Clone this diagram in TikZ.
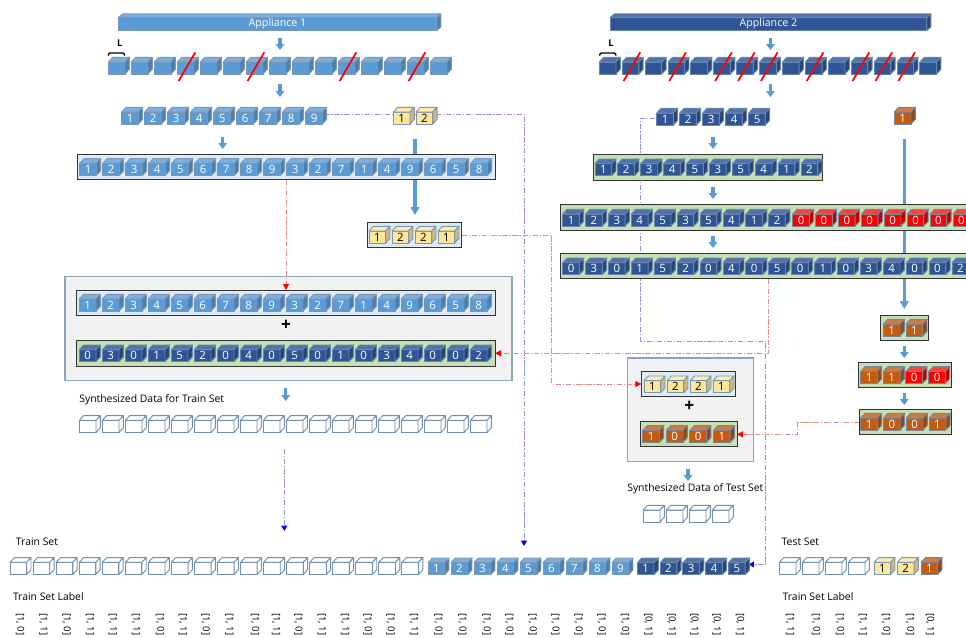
\documentclass[tikz,border=0pt]{standalone}
\usepackage{fontspec}
\setmainfont{Open Sans}
\usetikzlibrary{arrows.meta,backgrounds}
\definecolor{lbF}{HTML}{5B9BD5}\definecolor{lbT}{HTML}{7CAFDE}\definecolor{lbS}{HTML}{4A7FB0}\definecolor{lbE}{HTML}{7A98B5}\colorlet{lbX}{white}
\definecolor{dbF}{HTML}{2F5597}\definecolor{dbT}{HTML}{4F73AC}\definecolor{dbS}{HTML}{264679}\definecolor{dbE}{HTML}{6A85A8}\colorlet{dbX}{white}
\definecolor{yeF}{HTML}{FFE699}\definecolor{yeT}{HTML}{FFEBAE}\definecolor{yeS}{HTML}{CDB97B}\definecolor{yeE}{HTML}{7A98B5}\colorlet{yeX}{black}
\definecolor{orF}{HTML}{C55A11}\definecolor{orT}{HTML}{D07B41}\definecolor{orS}{HTML}{8E4A1E}\definecolor{orE}{HTML}{7A8595}\colorlet{orX}{white}
\definecolor{rdF}{HTML}{FF0000}\definecolor{rdT}{HTML}{FF4040}\definecolor{rdS}{HTML}{C00000}\definecolor{rdE}{HTML}{7A8595}\colorlet{rdX}{white}
\colorlet{emF}{white}\colorlet{emT}{white}\colorlet{emS}{white}\definecolor{emE}{HTML}{7090AE}\colorlet{emX}{black}
\definecolor{paleblue}{HTML}{DEEBF7}\definecolor{palegreen}{HTML}{C5E0B4}\definecolor{panel}{HTML}{F2F2F2}
\definecolor{panelline}{HTML}{8CA3BA}\definecolor{bluedash}{HTML}{9090E8}\definecolor{reddash}{HTML}{E28A8A}\definecolor{blockblue}{HTML}{5B9BD5}
\tikzset{
  cubeface/.style={draw=#1E,fill=#1F,text=#1X,line width=0.7pt,inner sep=0pt,outer sep=0pt,
    minimum width=12.5pt,minimum height=9pt,font=\fontsize{8.6}{9}\selectfont},
  cubepart/.style={draw=#1E,line width=0.7pt,line join=round},
  framebox/.style={draw=black!80,line width=0.7pt,inner sep=0pt,outer sep=0pt,anchor=north west},
  panelbox/.style={draw=panelline,fill=panel,line width=1pt,inner sep=0pt,outer sep=0pt,anchor=north west},
  blockarrow/.style={blockblue,line width=2.3pt,-{Triangle[width=6.5pt,length=4.5pt]}},
  longarrow/.style={blockblue,line width=2.4pt,-{Triangle[width=6.5pt,length=6pt]}},
  blueline/.style={bluedash,line width=0.6pt,dash pattern=on 4pt off 1.3pt on 1pt off 1.3pt,-{Triangle[width=4.5pt,length=4pt,fill=blue,color=blue]}},
  redline/.style={reddash,line width=0.6pt,dash pattern=on 4pt off 1.3pt on 1pt off 1.3pt,-{Triangle[width=4.5pt,length=4.5pt,fill=red,color=red]}},
  strikeline/.style={red,line width=1.3pt},
  barbox/.style={draw=#1E,fill=#1F,line width=0.6pt,inner sep=0pt,outer sep=0pt,text=white,anchor=north west,font=\fontsize{8}{9}\selectfont},
  caption/.style={anchor=west,inner sep=0pt,outer sep=0pt,font=\fontsize{7.8}{9}\selectfont},
  vertlabel/.style={anchor=west,rotate=-90,inner sep=0pt,outer sep=0pt,font=\fontsize{7.2}{8}\selectfont},
  plussign/.style={inner sep=0pt,font=\fontsize{13}{14}\bfseries\selectfont},
  lmark/.style={inner sep=0pt,font=\fontsize{7}{8}\bfseries\selectfont},
  bracket/.style={black,line width=1pt,rounded corners=0.8pt},
}
% name, x of left edge, y of top edge, kind, label
\newcommand\mycube[5]{%
  \node[cubeface=#4] (#1) at (#2+8.35,#3+10.7) {#5};
  \draw[cubepart=#4,fill=#4T] (#1.north west) -- ++(4.3,-4.7) -- ++(16.7,0) -- (#1.north east) -- cycle;
  \draw[cubepart=#4,fill=#4S] (#1.north east) -- ++(4.3,-4.7) -- ++(0,12) -- (#1.south east) -- cycle;
}
% prefix, x0, pitch, y, kind, labels
\newcommand\cuberow[6]{%
  \foreach \lab [count=\ii from 0] in {#6}{%
    \pgfmathsetmacro\xx{#2+#3*\ii}%
    \mycube{#1\ii}{\xx}{#4}{#5}{\lab}%
  }%
}
\newcommand\strikecube[1]{%
  \draw[strikeline] ([shift={(-7,13)}]#1.center) -- ([shift={(9.65,-15.7)}]#1.center);
}
% name, x1, y1, x2, y2, fill
\newcommand\frameN[6]{%
  \node[framebox,fill=#6,minimum width={(#4-#2)*0.75pt},minimum height={(#5-#3)*0.75pt}] (#1) at (#2,#3) {};
}
\newcommand\panelN[5]{%
  \node[panelbox,minimum width={(#4-#2)*0.75pt},minimum height={(#5-#3)*0.75pt}] (#1) at (#2,#3) {};
}
% name, x1, x2, kind, label
\newcommand\barN[5]{%
  \node[barbox=#4,minimum width={(#3-#2)*0.75pt},minimum height=9.75pt] (#1) at (#2,17.7) {#5};
  \draw[cubepart=#4,fill=#4T] (#1.north west) -- ++(4.2,-3.8) -- (#3+4.2,13.9) -- (#1.north east) -- cycle;
  \draw[cubepart=#4,fill=#4S] (#1.north east) -- ++(4.2,-3.8) -- ++(0,13) -- (#1.south east) -- cycle;
}
% name, x, y1, y2, style
\newcommand\arrowN[5]{%
  \coordinate (#1s) at (#2,#3);
  \coordinate (#1e) at (#2,#4);
  \draw[#5] (#1s) -- (#1e);
}
\begin{document}
\begin{tikzpicture}[x=0.75pt,y=-0.75pt]
\useasboundingbox (0,0) rectangle (966,637);
\begin{pgfonlayer}{background}
  \panelN{trainpanel}{65}{276.7}{512}{380.7}
  \panelN{testpanel}{627.3}{358}{753.3}{461.3}
\end{pgfonlayer}

% header bars
\barN{barA}{118.3}{436.7}{lb}{Appliance 1}
\barN{barB}{610}{926.7}{db}{Appliance 2}

% length markers
\node[lmark] (lA) at (119.7,42.7) {L};
\node[lmark] (lB) at (611,42.7) {L};
\coordinate (brA) at (119.2,53);
\coordinate (brB) at (610.5,53);
\draw[bracket] ([xshift=-8.2]brA) ++(0,2.6) -- ++(0.6,-2.6) -- ++(15.2,0) -- ++(0.6,2.6);
\draw[bracket] ([xshift=-8.2]brB) ++(0,2.6) -- ++(0.6,-2.6) -- ++(15.2,0) -- ++(0.6,2.6);

% appliance 1, first rows
\cuberow{aa}{108.3}{23}{57.3}{lb}{{},{},{},{},{},{},{},{},{},{},{},{},{},{},{}}
\foreach \k in {3,6,10,13}{\strikecube{aa\k}}
\cuberow{ab}{121.7}{23}{107.3}{lb}{1,2,3,4,5,6,7,8,9}
\cuberow{ay}{393.3}{22.8}{107.3}{ye}{1,2}
\frameN{fa3}{77}{154.3}{495.7}{179.7}{paleblue}
\cuberow{ac}{79.7}{23}{158.7}{lb}{1,2,3,4,5,6,7,8,9,3,2,7,1,4,9,6,5,8}
\frameN{fay}{367}{222.3}{461.7}{247.3}{paleblue}
\cuberow{ad}{369}{23}{226.3}{ye}{1,2,2,1}

% train panel
\frameN{ftb}{76.7}{290}{495}{315.7}{paleblue}
\cuberow{ae}{79.3}{23}{294.3}{lb}{1,2,3,4,5,6,7,8,9,3,2,7,1,4,9,6,5,8}
\node[plussign] (plusA) at (286,325) {+};
\frameN{ftg}{76.7}{340.7}{495}{366}{palegreen}
\cuberow{af}{79.3}{23}{345}{db}{0,3,0,1,5,2,0,4,0,5,0,1,0,3,4,0,0,2}
\node[caption] (capA) at (79.3,400) {Synthesized Data for Train Set};
\cuberow{ag}{79.3}{23}{415.7}{em}{{},{},{},{},{},{},{},{},{},{},{},{},{},{},{},{},{},{}}

% appliance 2, first rows
\cuberow{ba}{599.3}{22.9}{57.3}{db}{{},{},{},{},{},{},{},{},{},{},{},{},{},{},{}}
\foreach \k in {1,3,5,6,7,9,11,12,13}{\strikecube{ba\k}}
\cuberow{bb}{656.7}{23}{108.3}{db}{1,2,3,4,5}
\cuberow{bo}{894.3}{23}{107.3}{or}{1}
\frameN{fb3}{593.3}{154.3}{822.7}{180}{palegreen}
\cuberow{bc}{595}{22.9}{159}{db}{1,2,3,4,5,3,5,4,1,2}
\frameN{fb4}{560}{204.7}{975}{230}{palegreen}
\cuberow{bd}{562.7}{22.9}{209.3}{db}{1,2,3,4,5,3,5,4,1,2}
\cuberow{br}{792.7}{22.9}{209.3}{rd}{0,0,0,0,0,0,0,0}
\frameN{fb5}{560}{253.3}{975}{278.7}{palegreen}
\cuberow{be}{562.7}{22.9}{258}{db}{0,3,0,1,5,2,0,4,0,5,0,1,0,3,4,0,0,2}

% appliance 2, right column
\frameN{fo1}{880}{315}{928.7}{340.3}{palegreen}
\cuberow{ca}{883.3}{22.7}{319.3}{or}{1,1}
\frameN{fo2}{858.7}{362}{951}{387.3}{palegreen}
\cuberow{cb}{860.7}{22.7}{366.7}{or}{1,1}
\cuberow{cr}{905.9}{22.8}{366.7}{rd}{0,0}
\frameN{fo3}{859.3}{409.3}{951}{434.3}{palegreen}
\cuberow{cc}{860.7}{22.8}{413.3}{or}{1,0,0,1}

% test panel
\frameN{fty}{641.3}{371.7}{735.7}{396.7}{paleblue}
\cuberow{da}{644}{23}{376}{ye}{1,2,2,1}
\node[plussign] (plusB) at (689.3,406.7) {+};
\frameN{fto}{640.7}{421.3}{737}{446.7}{palegreen}
\cuberow{db}{642.7}{23.6}{425.7}{or}{1,0,0,1}
\node[caption,anchor=center] (capB) at (695.3,489) {Synthesized Data of Test Set};
\cuberow{dc}{643.3}{23}{505.3}{em}{{},{},{},{}}

% train set
\node[caption] (capC) at (16,541.7) {Train Set};
\cuberow{ea}{10}{23.05}{557.7}{em}{{},{},{},{},{},{},{},{},{},{},{},{},{},{},{},{},{},{}}
\cuberow{eb}{428}{23}{558}{lb}{1,2,3,4,5,6,7,8,9}
\cuberow{ec}{637.3}{22.8}{558}{db}{1,2,3,4,5}
\node[caption] (capD) at (13,596.7) {Train Set Label};
\foreach \vx/\vv [count=\ii] in {20/0,43.3/1,66.7/0,90/1,112.7/1,136/1,160/0,182.7/1,205.7/0,229.3/1,
  255/0,276/1,298.3/0,321.7/1,345/1,367.7/0,390.7/0,414/1,438.3/0,462.3/0,
  486.7/0,509.3/0,532.7/0,555.3/0,578.7/0,601.7/0,625/0}
  {\node[vertlabel] (la\ii) at (\vx,613.3) {[1, \vv]};}
\foreach \vx [count=\ii] in {648.3,671.7,694.3,716.7,740}
  {\node[vertlabel] (lb\ii) at (\vx,613.3) {[0, 1]};}

% test set
\node[caption] (capE) at (781.7,541.7) {Test Set};
\cuberow{ta}{779.3}{23}{557.7}{em}{{},{},{},{}}
\cuberow{tb}{874}{23.3}{557.7}{ye}{1,2}
\cuberow{tc}{921}{23}{557.7}{or}{1}
\node[caption] (capF) at (782.7,596.7) {Train Set Label};
\foreach \vx/\vv [count=\ii] in {790/{1, 1},816/{1, 0},840/{1, 0},862.7/{1, 1},886/{1, 0},910/{1, 0},930/{0, 1}}
  {\node[vertlabel] (lc\ii) at (\vx,613.3) {[\vv]};}

% connectors, behind the cubes and frames
\begin{pgfonlayer}{background}
  \arrowN{u1}{280}{38}{50}{blockarrow}
  \arrowN{u2}{280}{84}{97}{blockarrow}
  \arrowN{u3}{222.7}{137}{149}{blockarrow}
  \arrowN{u4}{415}{139}{215}{longarrow}
  \arrowN{u5}{285.7}{388}{401}{blockarrow}
  \arrowN{v1}{770.5}{38}{50}{blockarrow}
  \arrowN{v2}{770.5}{84}{97}{blockarrow}
  \arrowN{v3}{713}{137}{149}{blockarrow}
  \arrowN{v4}{713}{187}{199}{blockarrow}
  \arrowN{v5}{713}{236}{248}{blockarrow}
  \arrowN{v6}{904.3}{139}{309}{longarrow}
  \arrowN{v7}{904.3}{346}{358}{blockarrow}
  \arrowN{v8}{904.3}{393}{405}{blockarrow}
  \arrowN{v9}{688}{469}{481}{blockarrow}

  \coordinate (b1) at (524,114.3);
  \coordinate (b2) at (524,546);
  \draw[blueline] (ab8.center |- b1) -- (b1) -- (b2);
  \coordinate (b3) at (640.5,118.3);
  \coordinate (b4) at (640.5,341);
  \coordinate (b5) at (765.7,341);
  \coordinate (b6) at (765.7,564.5);
  \draw[blueline] (bb0.center |- b3) -- (b3) -- (b4) -- (b5) -- (b6) -- ([xshift=2.6pt]ec4.east |- b6);
  \coordinate (b7) at (284.3,449);
  \coordinate (b8) at (284.3,531);
  \draw[blueline] (b7) -- (b8);

  \coordinate (r1) at (286,0);
  \draw[redline] (fa3.south -| r1) -- (ftb.north -| r1);
  \coordinate (r2) at (768.7,353.3);
  \draw[redline] (fb5.south -| r2) -- (r2) -- (ftg.east |- r2);
  \coordinate (r3) at (551.7,235);
  \coordinate (r4) at (551.7,384);
  \draw[redline] (fay.east |- r3) -- (r3) -- (r4) -- (fty.west |- r4);
  \coordinate (r5) at (797.7,422.3);
  \coordinate (r6) at (797.7,434.3);
  \draw[redline] (fo3.west |- r5) -- (r5) -- (r6) -- (fto.east |- r6);
\end{pgfonlayer}
\end{tikzpicture}
\end{document}
